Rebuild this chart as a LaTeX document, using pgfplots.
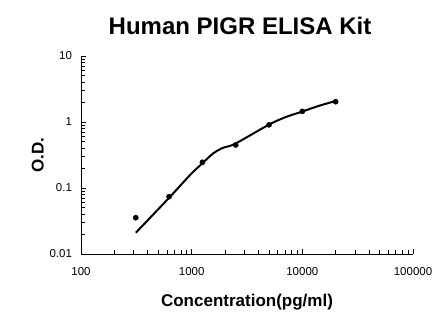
\documentclass[border=0pt]{standalone}
\usepackage{fontspec}
\setmainfont{Liberation Sans}
\usepackage{pgfplots}
\pgfplotsset{compat=1.18}
\begin{document}
\begin{tikzpicture}
\useasboundingbox (-81pt,-72pt) rectangle (365pt,254pt);
\begin{axis}[
 at={(0,0)}, anchor=south west,
 scale only axis, width=332pt, height=198pt,
 xmode=log, ymode=log,
 xmin=100, xmax=100000, ymin=0.01, ymax=10,
 axis x line*=bottom, axis y line*=left,
 axis line style={line width=0.8pt, black, -},
 tick style={black, line width=0.8pt},
 tick align=inside,
 major tick length=5pt, minor tick length=4pt,
 xtick={100,1000,10000,100000},
 xticklabels={100,1000,10000,100000},
 ytick={0.01,0.1,1,10},
 yticklabels={0.01,0.1,1,10},
 /pgf/number format/assume math mode=true,
 ticklabel style={font=\fontsize{11.5}{13}\selectfont},
 xticklabel style={yshift=-9.5pt},
 yticklabel style={xshift=-5.5pt},
 title={Human PIGR ELISA Kit},
 title style={font=\bfseries\fontsize{24}{28}\selectfont, at={(axis description cs:0.479,1.121)}, anchor=center},
 xlabel={Concentration(pg/ml)},
 xlabel style={font=\bfseries\fontsize{17}{20}\selectfont, at={(axis description cs:0.5,-0.242)}, anchor=center},
 ylabel={O.D.},
 every axis y label/.style={font=\bfseries\fontsize{17}{20}\selectfont, at={(axis description cs:-0.130,0.5)}, rotate=90, anchor=center},
 clip=false,
]
\addplot[black, line width=2pt, smooth, no marks] coordinates {
 (312.5,0.021) (625,0.071) (966,0.157) (1250,0.237) (1567,0.335) (1928,0.408)
 (2459,0.466) (4920,0.90) (7000,1.18) (10000,1.44) (14000,1.75) (20000,2.08)
};
\addplot[only marks, mark=*, mark size=2.6pt, black] coordinates {
 (312.5,0.0355) (625,0.074) (1250,0.245) (2500,0.449) (5000,0.905) (10000,1.45) (20000,2.03)
};
\end{axis}
\end{tikzpicture}
\end{document}
